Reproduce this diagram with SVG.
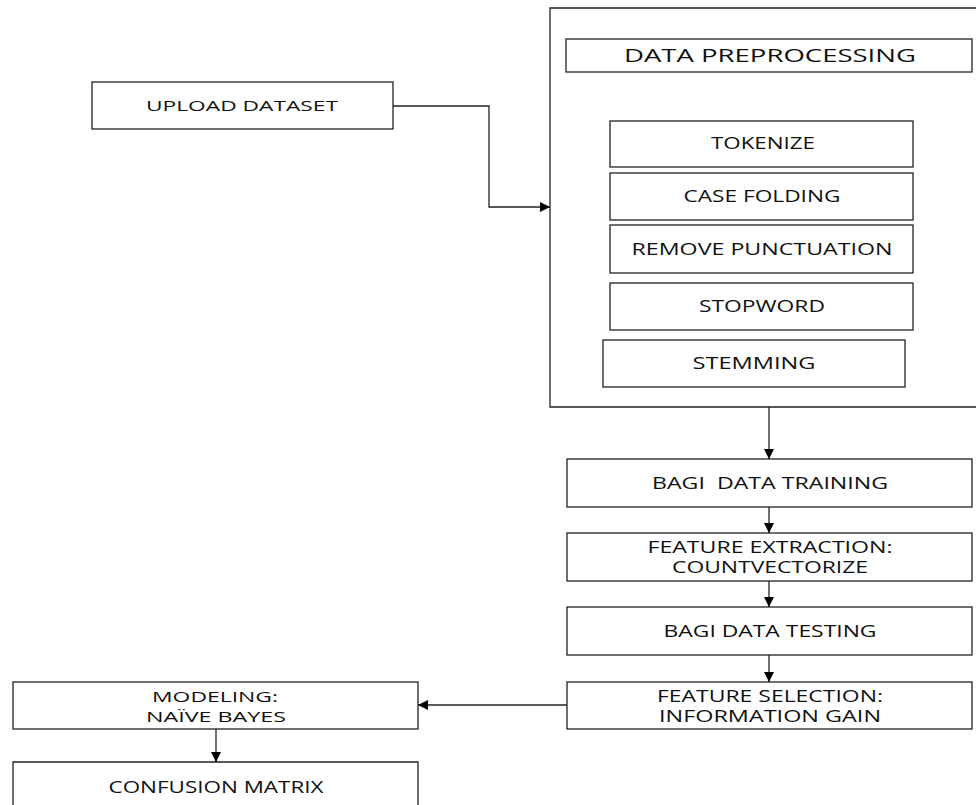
<svg xmlns="http://www.w3.org/2000/svg" width="976" height="805" viewBox="0 0 976 805">
<defs>
<style>
.b{fill:#fff;stroke:#222;stroke-width:1.3}
.t{font-family:"Open Sans","Liberation Sans",sans-serif;fill:#111;text-anchor:middle}
.c{fill:none;stroke:#222;stroke-width:1.3}
</style>
<marker id="ah" viewBox="0 0 10 10" refX="10" refY="5" markerWidth="10" markerHeight="10" markerUnits="userSpaceOnUse" orient="auto">
<path d="M0,0 L10,5 L0,10 z" fill="#000"/>
</marker>
</defs>
<rect width="976" height="805" fill="#fff"/>
<g id="preprocessing-group">
<path class="c" d="M976,8 H550 V407 H976"/>
</g>
<g id="data-preprocessing">
<rect class="b" x="566" y="39" width="406" height="33"/>
<text class="t" x="770" y="62" font-size="19" textLength="292" lengthAdjust="spacingAndGlyphs">DATA PREPROCESSING</text>
</g>
<g id="tokenize">
<rect class="b" x="610" y="121" width="303" height="46"/>
<text class="t" x="763" y="149" font-size="17" textLength="104" lengthAdjust="spacingAndGlyphs">TOKENIZE</text>
</g>
<g id="case-folding">
<rect class="b" x="610" y="173" width="303" height="47"/>
<text class="t" x="762" y="202" font-size="17" textLength="157" lengthAdjust="spacingAndGlyphs">CASE FOLDING</text>
</g>
<g id="remove-punctuation">
<rect class="b" x="610" y="225" width="303" height="48"/>
<text class="t" x="762" y="255" font-size="17" textLength="261" lengthAdjust="spacingAndGlyphs">REMOVE PUNCTUATION</text>
</g>
<g id="stopword">
<rect class="b" x="610" y="283" width="303" height="47"/>
<text class="t" x="762" y="312" font-size="17" textLength="126" lengthAdjust="spacingAndGlyphs">STOPWORD</text>
</g>
<g id="stemming">
<rect class="b" x="603" y="340" width="302" height="47"/>
<text class="t" x="754" y="369" font-size="17" textLength="123" lengthAdjust="spacingAndGlyphs">STEMMING</text>
</g>
<g id="upload-dataset">
<rect class="b" x="92" y="82" width="301" height="47"/>
<text class="t" x="242" y="111" font-size="14" textLength="192" lengthAdjust="spacingAndGlyphs">UPLOAD DATASET</text>
</g>
<g id="bagi-data-training">
<rect class="b" x="567" y="459" width="405" height="48"/>
<text class="t" x="770" y="489" font-size="17" textLength="236" lengthAdjust="spacingAndGlyphs" xml:space="preserve">BAGI  DATA TRAINING</text>
</g>
<g id="feature-extraction">
<rect class="b" x="567" y="533" width="405" height="48"/>
<text class="t" x="770" y="553" font-size="16" textLength="245" lengthAdjust="spacingAndGlyphs">FEATURE EXTRACTION:</text>
<text class="t" x="770" y="573" font-size="16" textLength="196" lengthAdjust="spacingAndGlyphs">COUNTVECTORIZE</text>
</g>
<g id="bagi-data-testing">
<rect class="b" x="567" y="607" width="405" height="48"/>
<text class="t" x="770" y="637" font-size="17" textLength="213" lengthAdjust="spacingAndGlyphs">BAGI DATA TESTING</text>
</g>
<g id="feature-selection">
<rect class="b" x="567" y="682" width="405" height="47"/>
<text class="t" x="770" y="702" font-size="16" textLength="226" lengthAdjust="spacingAndGlyphs">FEATURE SELECTION:</text>
<text class="t" x="770" y="722" font-size="16" textLength="222" lengthAdjust="spacingAndGlyphs">INFORMATION GAIN</text>
</g>
<g id="modeling">
<rect class="b" x="13" y="682" width="405" height="47"/>
<text class="t" x="215" y="702" font-size="14" textLength="126" lengthAdjust="spacingAndGlyphs">MODELING:</text>
<text class="t" x="216" y="722" font-size="14" textLength="140" lengthAdjust="spacingAndGlyphs">NAÏVE BAYES</text>
</g>
<g id="confusion-matrix">
<path class="b" d="M13,810 V762 H418 V810"/>
<text class="t" x="216" y="793" font-size="16" textLength="215" lengthAdjust="spacingAndGlyphs">CONFUSION MATRIX</text>
</g>
<g id="connectors">
<path class="c" d="M393,106 H489 V207 H550" marker-end="url(#ah)"/>
<path class="c" d="M769,407 V459" marker-end="url(#ah)"/>
<path class="c" d="M769,507 V533" marker-end="url(#ah)"/>
<path class="c" d="M769,581 V607" marker-end="url(#ah)"/>
<path class="c" d="M769,655 V682" marker-end="url(#ah)"/>
<path class="c" d="M567,705 H418" marker-end="url(#ah)"/>
<path class="c" d="M216,729 V762" marker-end="url(#ah)"/>
</g>
</svg>
